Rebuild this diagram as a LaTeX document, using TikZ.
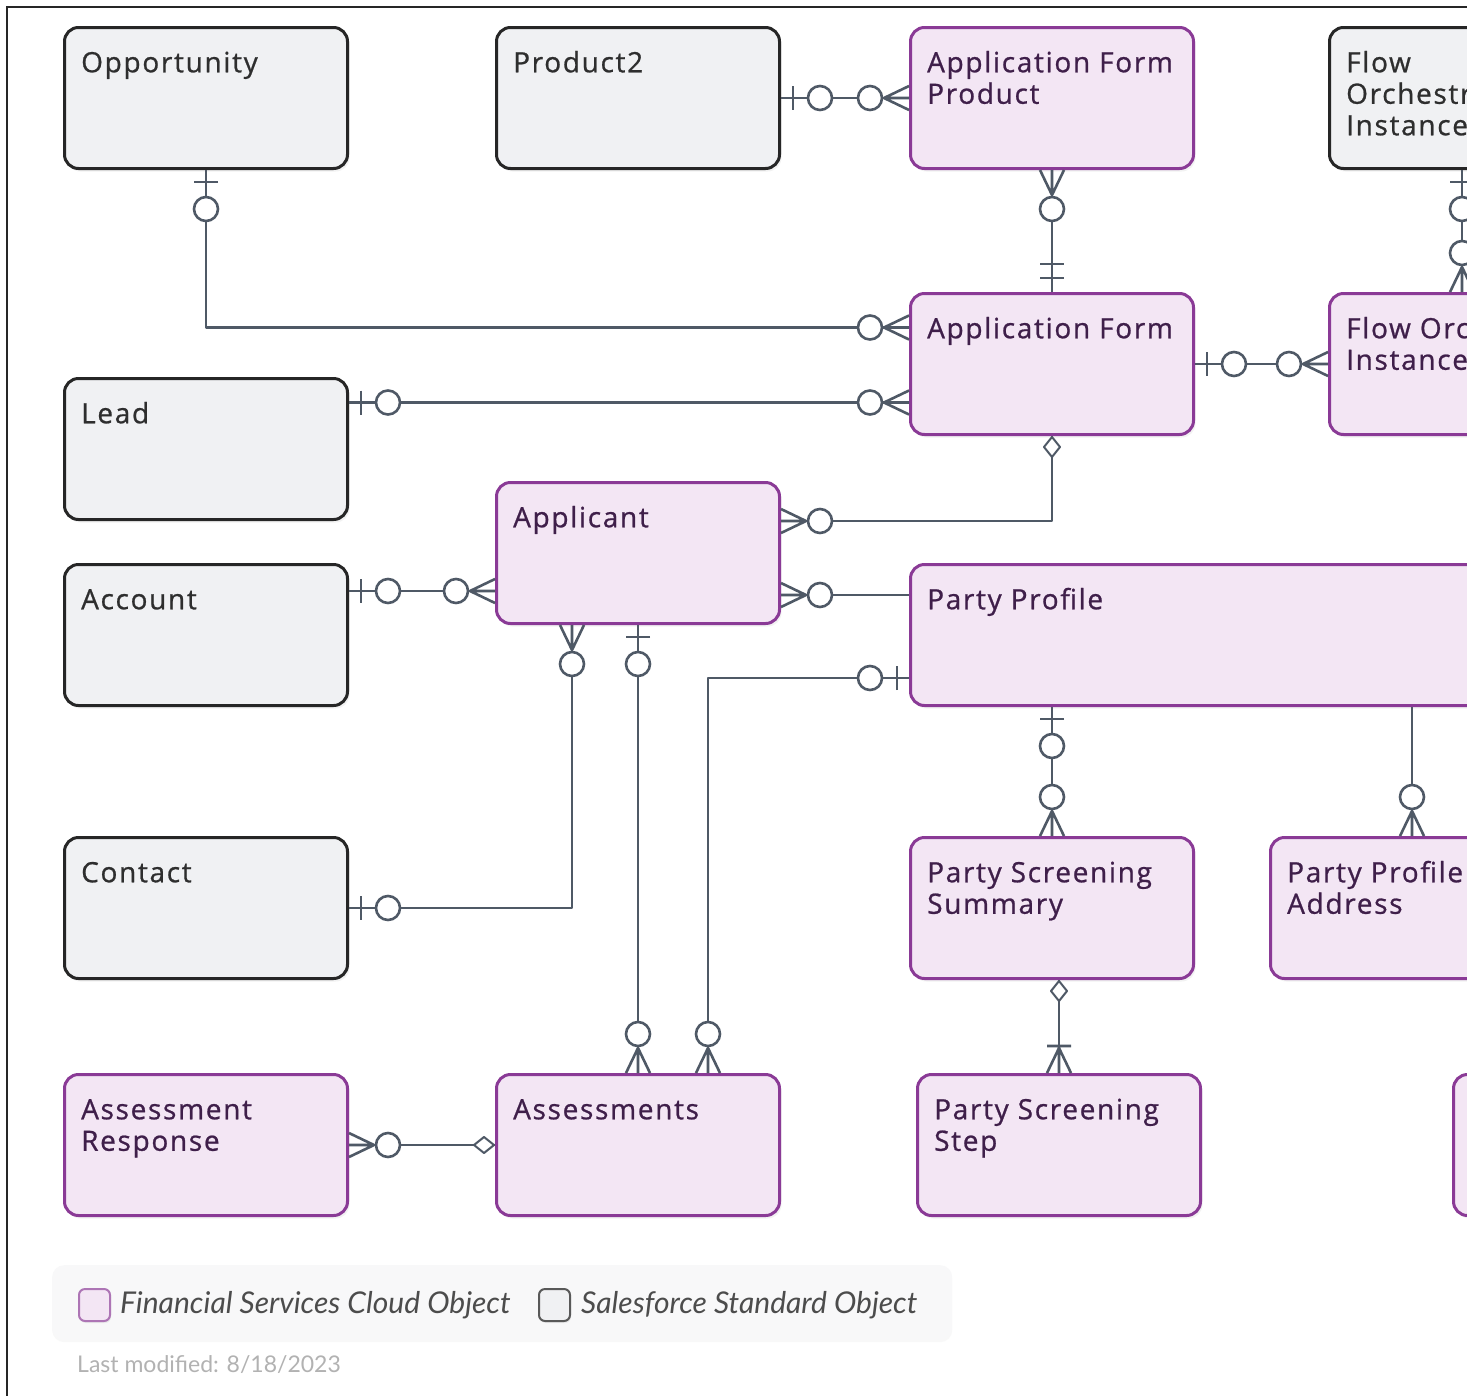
\documentclass[tikz,border=0pt]{standalone}
\usepackage{fontspec}
\setmainfont{Open Sans}[LetterSpace=6, FakeBold=0.8]
\newfontfamily\legendfont{Lato}
\usetikzlibrary{calc,shadows}
\definecolor{fscfill}{HTML}{F3E6F4}
\definecolor{fscline}{HTML}{8A3A96}
\definecolor{fsctext}{HTML}{3F1F4A}
\definecolor{stdfill}{HTML}{F0F1F3}
\definecolor{stdline}{HTML}{262626}
\definecolor{stdtext}{HTML}{2E2E2E}
\definecolor{linkcol}{HTML}{4F5966}
\definecolor{legendbg}{HTML}{F8F8F9}

\tikzset{
  box/.style={rectangle, rounded corners=14pt, minimum width=283pt, minimum height=141pt,
    anchor=north west, line width=3pt, inner sep=0pt,
    drop shadow={opacity=0.10, shadow xshift=2pt, shadow yshift=-3pt}},
  fsc/.style={box, draw=fscline, fill=fscfill},
  std/.style={box, draw=stdline, fill=stdfill},
  title/.style={anchor=north west, inner sep=0pt, align=left,
    font=\fontsize{28}{31.5}\selectfont},
  ftitle/.style={title, text=fsctext},
  stitle/.style={title, text=stdtext},
  link/.style={draw=linkcol, line width=2.6pt, line join=round},
  % end symbols: origin on the box edge, +x points away from the box
  bar/.pic={\draw[link] (12,-12) -- (12,12);},
  circ/.pic={\draw[link, fill=white] (39,0) circle[radius=12];},
  crow/.pic={\draw[link] (0,-12) -- (25,0) -- (0,12) (0,0) -- (25,0);},
  dbar/.pic={\draw[link] (14,-12) -- (14,12) (28,-12) -- (28,12);},
  barcrow/.pic={\draw[link] (0,-12) -- (25,0) -- (0,12) (0,0) -- (27,0) (27,-12) -- (27,12);},
  dia/.pic={\draw[link, fill=white, line width=2pt] (1,0) -- (11,-8) -- (21,0) -- (11,8) -- cycle;},
}
\newcommand\erend[3]{\foreach \sym in {#3} {\pic[rotate=#2] at (#1) {\sym};}}

\begin{document}
\begin{tikzpicture}[x=1pt, y=-1pt]
\useasboundingbox (0,0) rectangle (1467,1395);
\clip (0,0) rectangle (1467,1395);
\fill[white] (0,0) rectangle (1467,1395);

% frame
\draw[stdline, line width=2pt] (7,1400) -- (7,7) -- (1480,7);

% entities
\node[std] (opp) at (63,26) {};
\node[std] (prod) at (495,26) {};
\node[fsc] (afp) at (909,26) {};
\node[std] (foi) at (1328,26) {};
\node[fsc] (af) at (909,292) {};
\node[fsc, minimum width=320pt] (fosi) at (1328,292) {};
\node[std] (lead) at (63,377) {};
\node[fsc] (appl) at (495,481) {};
\node[std] (acct) at (63,563) {};
\node[fsc, minimum width=700pt] (pp) at (909,563) {};
\node[std] (cont) at (63,836) {};
\node[fsc] (pss) at (909,836) {};
\node[fsc] (ppa) at (1269,836) {};
\node[fsc] (ar) at (63,1073) {};
\node[fsc] (asm) at (495,1073) {};
\node[fsc] (pst) at (916,1073) {};
\node[fsc] (more) at (1452,1073) {};

% entity names
\node[stitle] (opp-t) at ([xshift=18pt,yshift=-24pt]opp.north west) {\strut Opportunity};
\node[stitle] (prod-t) at ([xshift=18pt,yshift=-24pt]prod.north west) {\strut Product2};
\node[ftitle] (afp-t) at ([xshift=18pt,yshift=-24pt]afp.north west) {\strut Application Form\\Product};
\node[stitle] (foi-t) at ([xshift=18pt,yshift=-24pt]foi.north west) {\strut Flow\\Orchestration\\Instance};
\node[ftitle] (af-t) at ([xshift=18pt,yshift=-24pt]af.north west) {\strut Application Form};
\node[ftitle] (fosi-t) at ([xshift=18pt,yshift=-24pt]fosi.north west) {\strut Flow Orchestration\\Instance};
\node[stitle] (lead-t) at ([xshift=18pt,yshift=-24pt]lead.north west) {\strut Lead};
\node[ftitle] (appl-t) at ([xshift=18pt,yshift=-24pt]appl.north west) {\strut Applicant};
\node[stitle] (acct-t) at ([xshift=18pt,yshift=-24pt]acct.north west) {\strut Account};
\node[ftitle] (pp-t) at ([xshift=18pt,yshift=-24pt]pp.north west) {\strut Party Profile};
\node[stitle] (cont-t) at ([xshift=18pt,yshift=-24pt]cont.north west) {\strut Contact};
\node[ftitle] (pss-t) at ([xshift=18pt,yshift=-24pt]pss.north west) {\strut Party Screening\\Summary};
\node[ftitle] (ppa-t) at ([xshift=18pt,yshift=-24pt]ppa.north west) {\strut Party Profile\\Address};
\node[ftitle] (ar-t) at ([xshift=18pt,yshift=-24pt]ar.north west) {\strut Assessment\\Response};
\node[ftitle] (asm-t) at ([xshift=18pt,yshift=-24pt]asm.north west) {\strut Assessments};
\node[ftitle] (pst-t) at ([xshift=18pt,yshift=-24pt]pst.north west) {\strut Party Screening\\Step};

% anchor points on box edges
\coordinate (af-w1) at ([yshift=36.5pt]af.west);
\coordinate (af-w2) at ([yshift=-38.5pt]af.west);
\coordinate (foi-s) at ([xshift=134pt]foi.south west);
\coordinate (appl-e1) at ([yshift=32pt]appl.east);
\coordinate (appl-w) at ([yshift=-38pt]appl.west);
\coordinate (appl-e2) at ([yshift=-42pt]appl.east);
\coordinate (appl-s1) at ([xshift=77pt]appl.south west);
\coordinate (pp-w) at ([yshift=-43pt]pp.west);
\coordinate (asm-n2) at ([xshift=213pt]asm.north west);

% relationships
\draw[link] (prod.east) -- (afp.west);
\draw[link] (afp.south) -- (af.north);
\draw[link] (opp.south) |- (af-w1);
\draw[link] (lead.east |- af-w2) -- (af-w2);
\draw[link] (af.east) -- (fosi.west);
\draw[link] (foi-s) -- (foi-s |- fosi.north);
\draw[link] (af.south) |- (appl-e1);
\draw[link] (acct.east |- appl-w) -- (appl-w);
\draw[link] (appl-e2) -- (appl-e2 -| pp.west);
\draw[link] (appl-s1) |- (cont.east);
\draw[link] (appl.south) -- (asm.north);
\draw[link] (pp-w) -| (asm-n2);
\draw[link] (pss.north |- pp.south) -- (pss.north);
\draw[link] (ppa.north |- pp.south) -- (ppa.north);
\draw[link] (pst.north |- pss.south) -- (pst.north);
\draw[link] (ar.east) -- (asm.west);

% cardinality symbols
\erend{prod.east}{0}{bar,circ}
\erend{afp.west}{180}{crow,circ}
\erend{afp.south}{-90}{crow,circ}
\erend{af.north}{90}{dbar}
\erend{opp.south}{-90}{bar,circ}
\erend{af-w1}{180}{crow,circ}
\erend{lead.east |- af-w2}{0}{bar,circ}
\erend{af-w2}{180}{crow,circ}
\erend{af.east}{0}{bar,circ}
\erend{fosi.west}{180}{crow,circ}
\erend{foi-s}{-90}{bar,circ}
\erend{foi-s |- fosi.north}{90}{crow,circ}
\erend{af.south}{-90}{dia}
\erend{appl-e1}{0}{crow,circ}
\erend{acct.east |- appl-w}{0}{bar,circ}
\erend{appl-w}{180}{crow,circ}
\erend{appl-e2}{0}{crow,circ}
\erend{appl-s1}{-90}{crow,circ}
\erend{cont.east}{0}{bar,circ}
\erend{appl.south}{-90}{bar,circ}
\erend{asm.north}{90}{crow,circ}
\erend{pp-w}{180}{bar,circ}
\erend{asm-n2}{90}{crow,circ}
\erend{pss.north |- pp.south}{-90}{bar,circ}
\erend{pss.north}{90}{crow,circ}
\erend{ppa.north}{90}{crow,circ}
\erend{pst.north |- pss.south}{-90}{dia}
\erend{pst.north}{90}{barcrow}
\erend{ar.east}{0}{crow,circ}
\erend{asm.west}{180}{dia}

% legend
\node[rectangle, rounded corners=12pt, fill=legendbg, minimum width=900pt, minimum height=75pt,
  anchor=north west, inner sep=0pt,
  drop shadow={opacity=0.05, shadow xshift=0pt, shadow yshift=-2pt}] (legend) at (52,1265) {};
\node[rectangle, rounded corners=6pt, fill=fscfill, draw=fscline!70, line width=2pt,
  minimum width=31pt, minimum height=32pt, anchor=west, inner sep=0pt,
  drop shadow={opacity=0.12, shadow xshift=1pt, shadow yshift=-2pt}] (key-fsc) at (78,1305) {};
\node[anchor=west, inner sep=0pt, text=black!70,
  font=\legendfont\itshape\fontsize{30}{34}\selectfont] (key-fsc-t) at (120,1305) {Financial Services Cloud Object};
\node[rectangle, rounded corners=6pt, fill=stdfill, draw=black!65, line width=2pt,
  minimum width=31pt, minimum height=32pt, anchor=west, inner sep=0pt,
  drop shadow={opacity=0.12, shadow xshift=1pt, shadow yshift=-2pt}] (key-std) at (538,1305) {};
\node[anchor=west, inner sep=0pt, text=black!70,
  font=\legendfont\itshape\fontsize{30}{34}\selectfont] (key-std-t) at (581,1305) {Salesforce Standard Object};
\node[anchor=west, inner sep=0pt, text=black!30,
  font=\legendfont\fontsize{23}{27}\selectfont] (modified) at (77,1365) {Last modified: 8/18/2023};
\end{tikzpicture}
\end{document}
